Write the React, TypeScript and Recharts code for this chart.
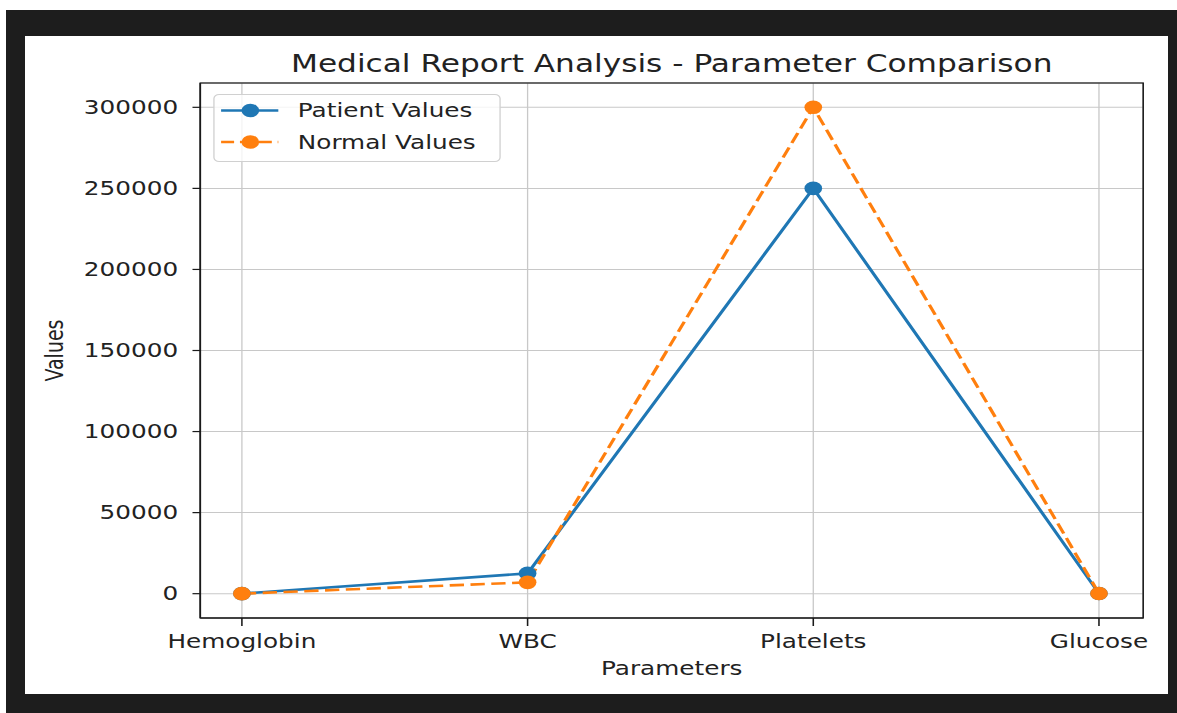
import React from 'react';
import { LineChart, Line, XAxis, YAxis, CartesianGrid } from 'recharts';

const categories = ['Hemoglobin', 'WBC', 'Platelets', 'Glucose'];
const patientValues = [13.5, 12500, 250000, 110];
const normalValues = [14, 7000, 300000, 100];
const yTicks = [0, 50000, 100000, 150000, 200000, 250000, 300000];
const yDomain = [-15000, 315000];
const titleText = 'Medical Report Analysis - Parameter Comparison';
const xLabelText = 'Parameters';
const yLabelText = 'Values';

const series = [
  { key: 'patient', name: 'Patient Values', color: '#1f77b4', dash: undefined as string | undefined },
  { key: 'normal', name: 'Normal Values', color: '#ff7f0e', dash: '11 5' },
];

const data = categories.map((name, i) => ({
  name,
  patient: patientValues[i],
  normal: normalValues[i],
}));

const FONT = 'DejaVu Sans, Verdana, sans-serif';
const TEXT = '#222222';
const SPINE = '#1a1a1a';
const CHART_W = 905;
const CHART_H = 713;
const SX = 1177 / CHART_W;
const MARGIN = { top: 83, right: 26, bottom: 35, left: 0 };
const Y_AXIS_W = 154;
const X_AXIS_H = 60;
const PLOT = {
  x: MARGIN.left + Y_AXIS_W,
  y: MARGIN.top,
  w: CHART_W - MARGIN.right - MARGIN.left - Y_AXIS_W,
  h: CHART_H - MARGIN.top - MARGIN.bottom - X_AXIS_H,
};

const renderXLabel = (props: any) => {
  const vb = props.viewBox || {};
  return (
    <text
      x={vb.x + vb.width / 2}
      y={vb.y + 57}
      textAnchor="middle"
      fontFamily={FONT}
      fontSize={19}
      fill={TEXT}
    >
      {xLabelText}
    </text>
  );
};

const renderYLabel = (props: any) => {
  const vb = props.viewBox || {};
  const x = vb.x + 48.5;
  const y = vb.y + vb.height / 2;
  return (
    <text
      x={x}
      y={y}
      transform={`rotate(-90, ${x}, ${y})`}
      textAnchor="middle"
      fontFamily={FONT}
      fontSize={19}
      fill={TEXT}
    >
      {yLabelText}
    </text>
  );
};

const FrameAndTitle = () => (
  <svg
    width={CHART_W}
    height={CHART_H}
    style={{ position: 'absolute', left: 0, top: 0, pointerEvents: 'none' }}
  >
    <rect x={PLOT.x} y={PLOT.y} width={PLOT.w} height={PLOT.h} fill="none" stroke={SPINE} strokeWidth={1.2} />
    <text
      x={PLOT.x + PLOT.w / 2}
      y={PLOT.y - 11}
      textAnchor="middle"
      fontFamily={FONT}
      fontSize={24}
      fill={TEXT}
    >
      {titleText}
    </text>
  </svg>
);

const LegendBox = () => (
  <svg
    width={221}
    height={68}
    style={{ position: 'absolute', left: 163.5, top: 93.5, overflow: 'visible' }}
  >
    <rect x={0.5} y={0.5} width={220} height={67} rx={4} ry={4} fill="rgba(255,255,255,0.8)" stroke="#d0d0d0" strokeWidth={1} />
    {series.map((s, i) => {
      const cy = 16.5 + i * 31.5;
      return (
        <g key={s.key}>
          <line x1={6} x2={50} y1={cy} y2={cy} stroke={s.color} strokeWidth={2.6} strokeDasharray={s.dash ? '10 4.5' : undefined} />
          <circle cx={28.5} cy={cy} r={6.8} fill={s.color} />
          <text x={65} y={cy} dy="0.36em" fontFamily={FONT} fontSize={19} fill={TEXT}>
            {s.name}
          </text>
        </g>
      );
    })}
  </svg>
);

export default function App() {
  return (
    <div style={{ position: 'absolute', left: 0, top: 0, width: 1177, height: 713, overflow: 'hidden', background: '#ffffff' }}>
      <div style={{ position: 'absolute', left: 6, top: 10, width: 1171, height: 703, background: '#1d1d1d' }} />
      <div style={{ position: 'absolute', left: 25, top: 36, width: 1143, height: 658, background: '#ffffff' }} />
      <div
        style={{
          position: 'absolute',
          left: 0,
          top: 0,
          width: CHART_W,
          height: CHART_H,
          transform: `scaleX(${SX})`,
          transformOrigin: '0 0',
        }}
      >
        <LineChart width={CHART_W} height={CHART_H} data={data} margin={MARGIN}>
          <CartesianGrid stroke="#c8c8c8" strokeWidth={1} />
          <XAxis
            dataKey="name"
            type="category"
            padding={{ left: 32, right: 34 }}
            height={X_AXIS_H}
            stroke={SPINE}
            strokeWidth={1.2}
            tickSize={8}
            tickMargin={8.5}
            tick={{ fill: TEXT, fontSize: 19, fontFamily: FONT }}
            interval={0}
            label={renderXLabel}
          />
          <YAxis
            type="number"
            domain={yDomain}
            ticks={yTicks}
            width={Y_AXIS_W}
            stroke={SPINE}
            strokeWidth={1.2}
            tickSize={6}
            tickMargin={11}
            tick={{ fill: TEXT, fontSize: 19, fontFamily: FONT }}
            interval={0}
            label={renderYLabel}
          />
          {series.map((s) => (
            <Line
              key={s.key}
              type="linear"
              dataKey={s.key}
              name={s.name}
              stroke={s.color}
              strokeWidth={2.6}
              strokeDasharray={s.dash}
              dot={{ r: 6.8, fill: s.color, stroke: 'none', strokeWidth: 0 }}
              activeDot={false}
              isAnimationActive={false}
            />
          ))}
        </LineChart>
        <FrameAndTitle />
        <LegendBox />
      </div>
    </div>
  );
}
